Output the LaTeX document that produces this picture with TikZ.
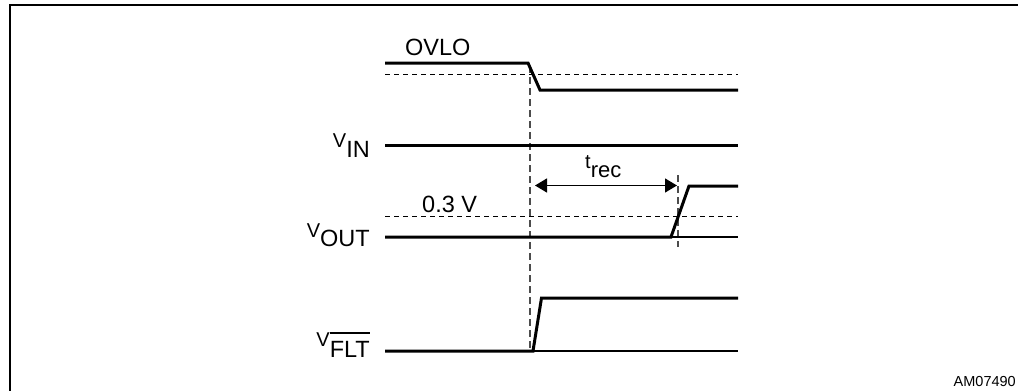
\documentclass[tikz,border=0pt]{standalone}
\usepackage{fontspec}
\setmainfont{Liberation Sans}
\usetikzlibrary{arrows.meta}
\newcommand\myovl[1]{\leavevmode\setbox0\hbox{#1}\rlap{\raisebox{23pt}{\rule{\wd0}{1.6pt}}}\box0}
\begin{document}
\begin{tikzpicture}[x=1pt,y=-1pt,
  sig/.style={line width=3pt},
  thinsig/.style={line width=1.4pt},
  thr/.style={line width=1.2pt, dash pattern=on 5pt off 4pt},
  guide/.style={line width=2pt, black!70, dash pattern=on 7pt off 4pt},
  lbl/.style={inner sep=0pt, font=\fontsize{23.5}{28}\selectfont},
  frame/.style={line width=2.5pt},
  dim/.style={line width=1.5pt, {Triangle[length=12pt,width=14pt]}-{Triangle[length=12pt,width=14pt]}}]
\useasboundingbox (0,0) rectangle (1018,391);
\draw[frame] (10,395) -- (10,5) -- (1022,5);

% coordinates
\coordinate (o0) at (385,63);
\coordinate (o1) at (528,63);
\coordinate (o2) at (540,90);
\coordinate (o3) at (738,90);
\coordinate (ot0) at (385,74.5);
\coordinate (ot1) at (738,74.5);
\coordinate (i0) at (385,145.5);
\coordinate (i1) at (738,145.5);
\coordinate (u0) at (385,237);
\coordinate (u1) at (671,237);
\coordinate (u2) at (689,186);
\coordinate (u3) at (738,186);
\coordinate (u4) at (738,237);
\coordinate (ut0) at (385,216.5);
\coordinate (ut1) at (738,216.5);
\coordinate (f0) at (385,351);
\coordinate (f1) at (533,351);
\coordinate (f2) at (541.5,298);
\coordinate (f3) at (738,298);
\coordinate (f4) at (738,351);
\coordinate (g1a) at (530,66);
\coordinate (g1b) at (530,351);
\coordinate (g2a) at (678,175);
\coordinate (g2b) at (678,247);
\coordinate (a0) at (535,185.5);
\coordinate (a1) at (677,185.5);

% guides
\draw[guide] (g1a) -- (g1b);
\draw[guide] (g2a) -- (g2b);

% thresholds
\draw[thr] (ot0) -- (ot1);
\draw[thr] (ut0) -- (ut1);

% signals
\draw[sig, line join=miter] (o0) -- (o1) -- (o2) -- (o3);
\draw[sig] (i0) -- (i1);
\draw[sig] (u0) -- (u1) -- (u2) -- (u3);
\draw[thinsig] (u1) -- (u4);
\draw[sig] (f0) -- (f1) -- (f2) -- (f3);
\draw[thinsig] (f1) -- (f4);

% t_rec
\draw[dim] (a0) -- (a1);

% labels
\node[lbl, anchor=base west] (ovlo) at (405,55) {OVLO};
\node[lbl, anchor=base west] (v03) at (422,212) {0.3 V};
\node[lbl, anchor=base west, font=\fontsize{22}{26}\selectfont] (trec) at (585,177) {\raisebox{9pt}{\fontsize{20}{24}\selectfont t}rec};
\node[lbl, anchor=base east] (vin) at (370,157) {\raisebox{10pt}{\fontsize{20}{24}\selectfont V}IN};
\node[lbl, anchor=base east] (vout) at (370,246) {\raisebox{9pt}{\fontsize{20}{24}\selectfont V}OUT};
\node[lbl, anchor=base east] (vflt) at (370,357) {\raisebox{11pt}{\fontsize{20}{24}\selectfont V}\myovl{FLT}};
\node[inner sep=0pt, anchor=base east, font=\fontsize{14.5}{17}\selectfont] (am) at (1016,386) {AM07490};
\end{tikzpicture}
\end{document}
